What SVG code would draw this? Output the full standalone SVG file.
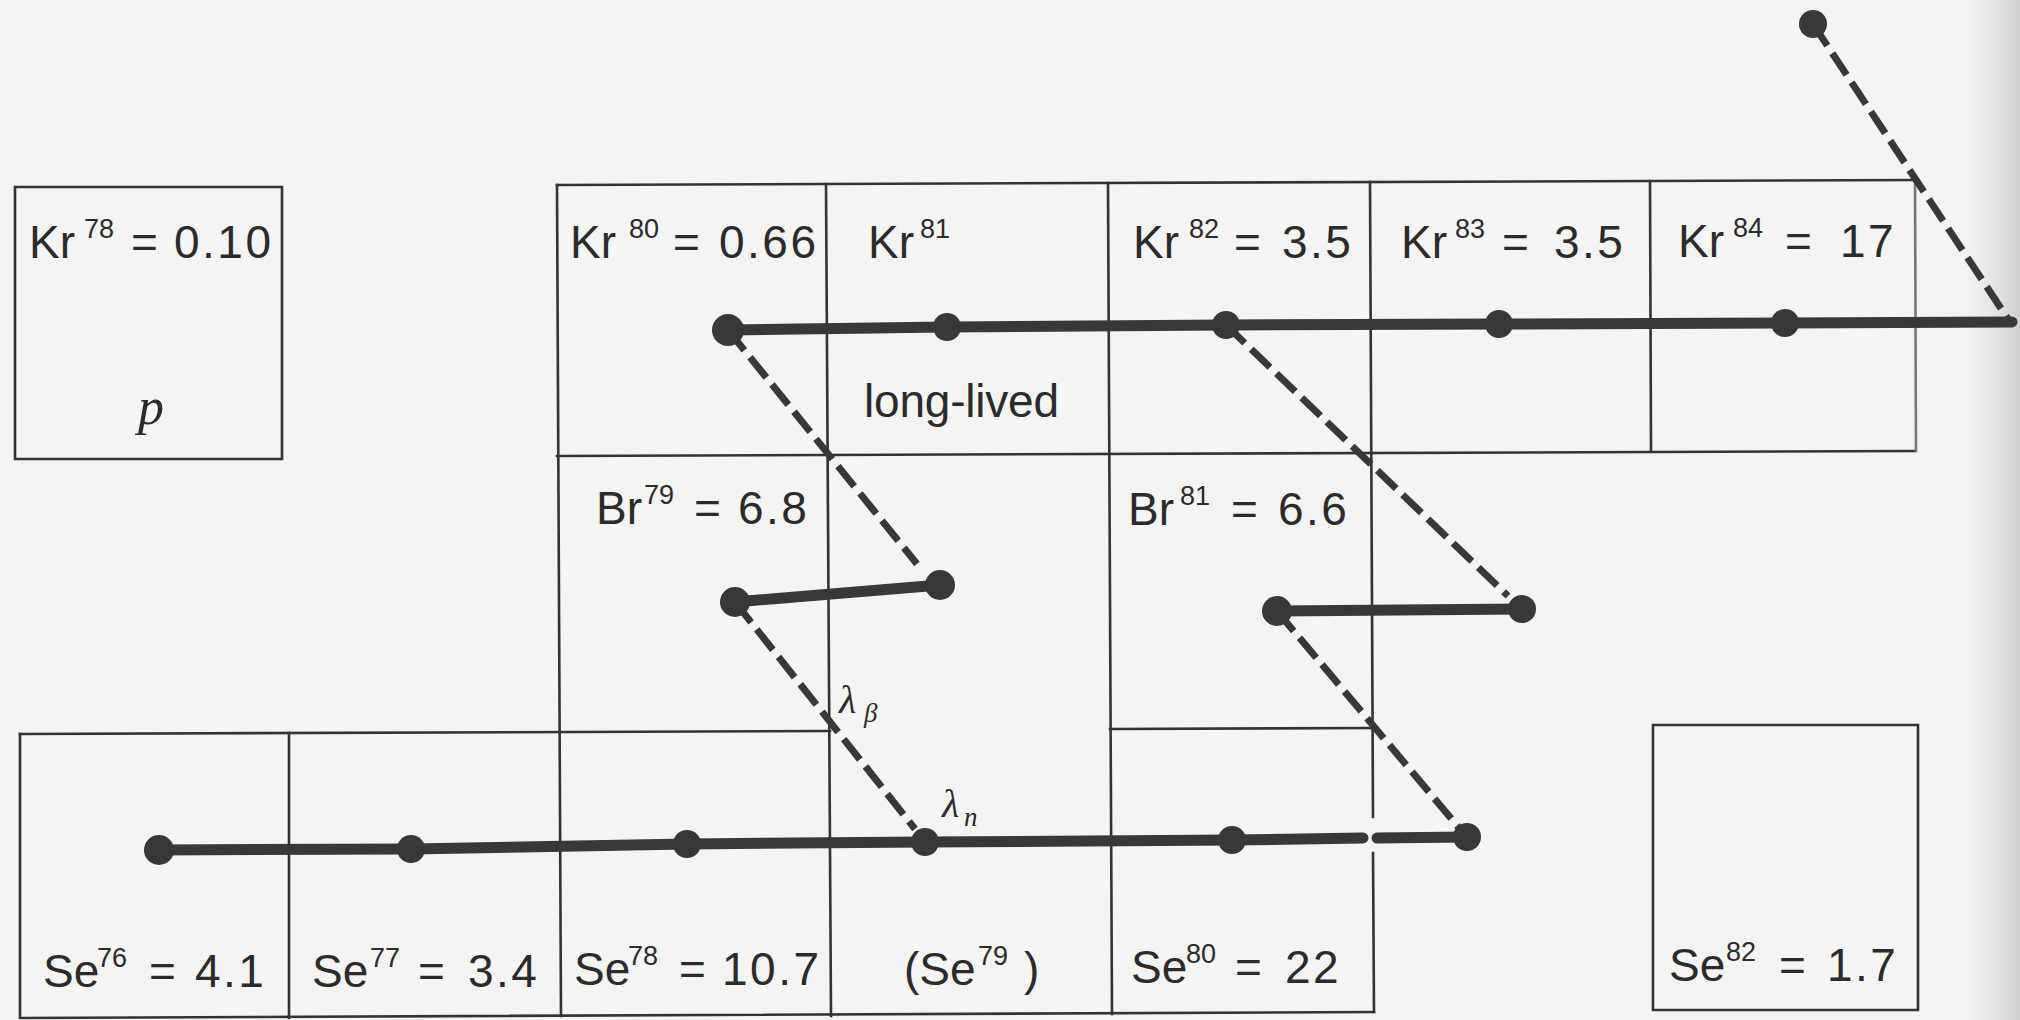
<svg xmlns="http://www.w3.org/2000/svg" width="2020" height="1020" viewBox="0 0 2020 1020">
<defs>
<linearGradient id="edge" x1="0" y1="0" x2="1" y2="0">
<stop offset="0" stop-color="#f4f4f2" stop-opacity="0"/>
<stop offset="1" stop-color="#cfcfcd" stop-opacity="1"/>
</linearGradient>
<style>
.grid{stroke:#333;stroke-width:2.6;fill:none;stroke-linecap:square}
.t{font-family:"Liberation Sans",Arial,sans-serif;font-size:46px;fill:#2b2b2b}
.sup{font-size:27px}
.v{letter-spacing:2.5px}
.it{font-family:"Liberation Serif","Times New Roman",serif;font-style:italic;fill:#2b2b2b}
.thick{stroke:#383838;stroke-width:11;fill:none;stroke-linecap:round;stroke-linejoin:round}
.dash{stroke:#383838;stroke-width:7;fill:none;stroke-dasharray:26 9}
.dot{fill:#383838}
</style>
</defs>
<rect width="2020" height="1020" fill="#f4f4f2"/>
<rect x="1945" y="0" width="75" height="1020" fill="url(#edge)"/>

<g id="grid" class="grid">
<path d="M15 187 L282 187 L282 459 L15 459 Z"/>
<path d="M557 185 L1915 180"/>
<path d="M557 456 L1915 451"/>
<path d="M1915 180 L1916 451" stroke="#777"/>
<path d="M557 185 L561 1016"/>
<path d="M826 184 L831 1016"/>
<path d="M1108 183 L1112 1014"/>
<path d="M1370 182 L1373 817"/>
<path d="M1373 853 L1374 1012"/>
<path d="M1650 181 L1651 451"/>
<path d="M20 734 L830 731"/>
<path d="M1110 729 L1373 728"/>
<path d="M20 734 L20 1018 L1374 1012"/>
<path d="M289 733 L289 1018"/>
<path d="M1653 725 L1918 725 L1918 1010 L1653 1010 Z"/>
</g>

<g id="node-kr78"><text class="t" x="29" y="258">Kr<tspan class="sup" x="84" y="238">78</tspan><tspan x="131" y="258">=</tspan><tspan class="v" x="174" y="258">0.10</tspan></text>
<text class="it" x="151" y="424" font-size="52" text-anchor="middle">p</text></g>
<g id="node-kr80"><text class="t" x="570" y="258">Kr<tspan class="sup" x="629" y="238">80</tspan><tspan x="673" y="258">=</tspan><tspan class="v" x="719" y="258">0.66</tspan></text></g>
<g id="node-kr81"><text class="t" x="868" y="258">Kr<tspan class="sup" x="920" y="238">81</tspan></text>
<text class="t" x="864" y="417" textLength="195">long-lived</text></g>
<g id="node-kr82"><text class="t" x="1133" y="258">Kr<tspan class="sup" x="1189" y="238">82</tspan><tspan x="1234" y="258">=</tspan><tspan class="v" x="1282" y="258">3.5</tspan></text></g>
<g id="node-kr83"><text class="t" x="1401" y="258">Kr<tspan class="sup" x="1455" y="238">83</tspan><tspan x="1502" y="258">=</tspan><tspan class="v" x="1554" y="258">3.5</tspan></text></g>
<g id="node-kr84"><text class="t" x="1678" y="257">Kr<tspan class="sup" x="1733" y="237">84</tspan><tspan x="1785" y="257">=</tspan><tspan class="v" x="1840" y="257">17</tspan></text></g>
<g id="node-br79"><text class="t" x="596" y="524">Br<tspan class="sup" x="644" y="504">79</tspan><tspan x="694" y="524">=</tspan><tspan class="v" x="738" y="524">6.8</tspan></text></g>
<g id="node-br81"><text class="t" x="1128" y="525">Br<tspan class="sup" x="1180" y="505">81</tspan><tspan x="1231" y="525">=</tspan><tspan class="v" x="1278" y="525">6.6</tspan></text></g>
<g id="node-se76"><text class="t" x="43" y="987">Se<tspan class="sup" x="97" y="967">76</tspan><tspan x="149" y="987">=</tspan><tspan class="v" x="195" y="987">4.1</tspan></text></g>
<g id="node-se77"><text class="t" x="312" y="987">Se<tspan class="sup" x="370" y="967">77</tspan><tspan x="418" y="987">=</tspan><tspan class="v" x="468" y="987">3.4</tspan></text></g>
<g id="node-se78"><text class="t" x="574" y="985">Se<tspan class="sup" x="628" y="965">78</tspan><tspan x="679" y="985">=</tspan><tspan class="v" x="722" y="985">10.7</tspan></text></g>
<g id="node-se79"><text class="t" x="904" y="985">(Se<tspan class="sup" x="978" y="965">79</tspan><tspan x="1024" y="985">)</tspan></text></g>
<g id="node-se80"><text class="t" x="1131" y="983">Se<tspan class="sup" x="1186" y="963">80</tspan><tspan x="1235" y="983">=</tspan><tspan class="v" x="1285" y="983">22</tspan></text></g>
<g id="node-se82"><text class="t" x="1669" y="981">Se<tspan class="sup" x="1726" y="961">82</tspan><tspan x="1779" y="981">=</tspan><tspan class="v" x="1827" y="981">1.7</tspan></text></g>

<g id="connectors">
<path class="thick" d="M728 330 L947 327 L1226 325 L1499 324 L1785 323 L2012 322"/>
<path class="thick" d="M735 602 L940 585"/>
<path class="thick" d="M1277 611 L1522 609"/>
<path class="thick" d="M159 850 L411 849 L687 844 L925 842 L1232 840 L1363 838"/>
<path class="thick" d="M1377 838 L1467 837" stroke-linecap="butt"/>
<path class="dash" d="M1813 24 L2010 322"/>
<path class="dash" d="M728 330 L917 564"/>
<path class="dash" d="M735 602 L915 829"/>
<path class="dash" d="M1226 325 L1508 596"/>
<path class="dash" d="M1277 611 L1460 829"/>
<text class="it" x="839" y="713" font-size="40">λ<tspan x="864" y="722" font-size="27">β</tspan></text>
<text class="it" x="942" y="817" font-size="40">λ<tspan x="964" y="826" font-size="27">n</tspan></text>
</g>

<g id="dots" class="dot">
<circle cx="1813" cy="24" r="14"/>
<circle cx="728" cy="330" r="16"/>
<circle cx="947" cy="327" r="14"/>
<circle cx="1226" cy="325" r="14"/>
<circle cx="1499" cy="324" r="14"/>
<circle cx="1785" cy="323" r="14"/>
<circle cx="735" cy="602" r="15"/>
<circle cx="940" cy="585" r="15"/>
<circle cx="1277" cy="611" r="15"/>
<circle cx="1522" cy="609" r="14"/>
<circle cx="159" cy="850" r="15"/>
<circle cx="411" cy="849" r="14"/>
<circle cx="687" cy="844" r="14"/>
<circle cx="925" cy="842" r="14"/>
<circle cx="1232" cy="840" r="14"/>
<circle cx="1467" cy="837" r="14"/>
</g>
</svg>
